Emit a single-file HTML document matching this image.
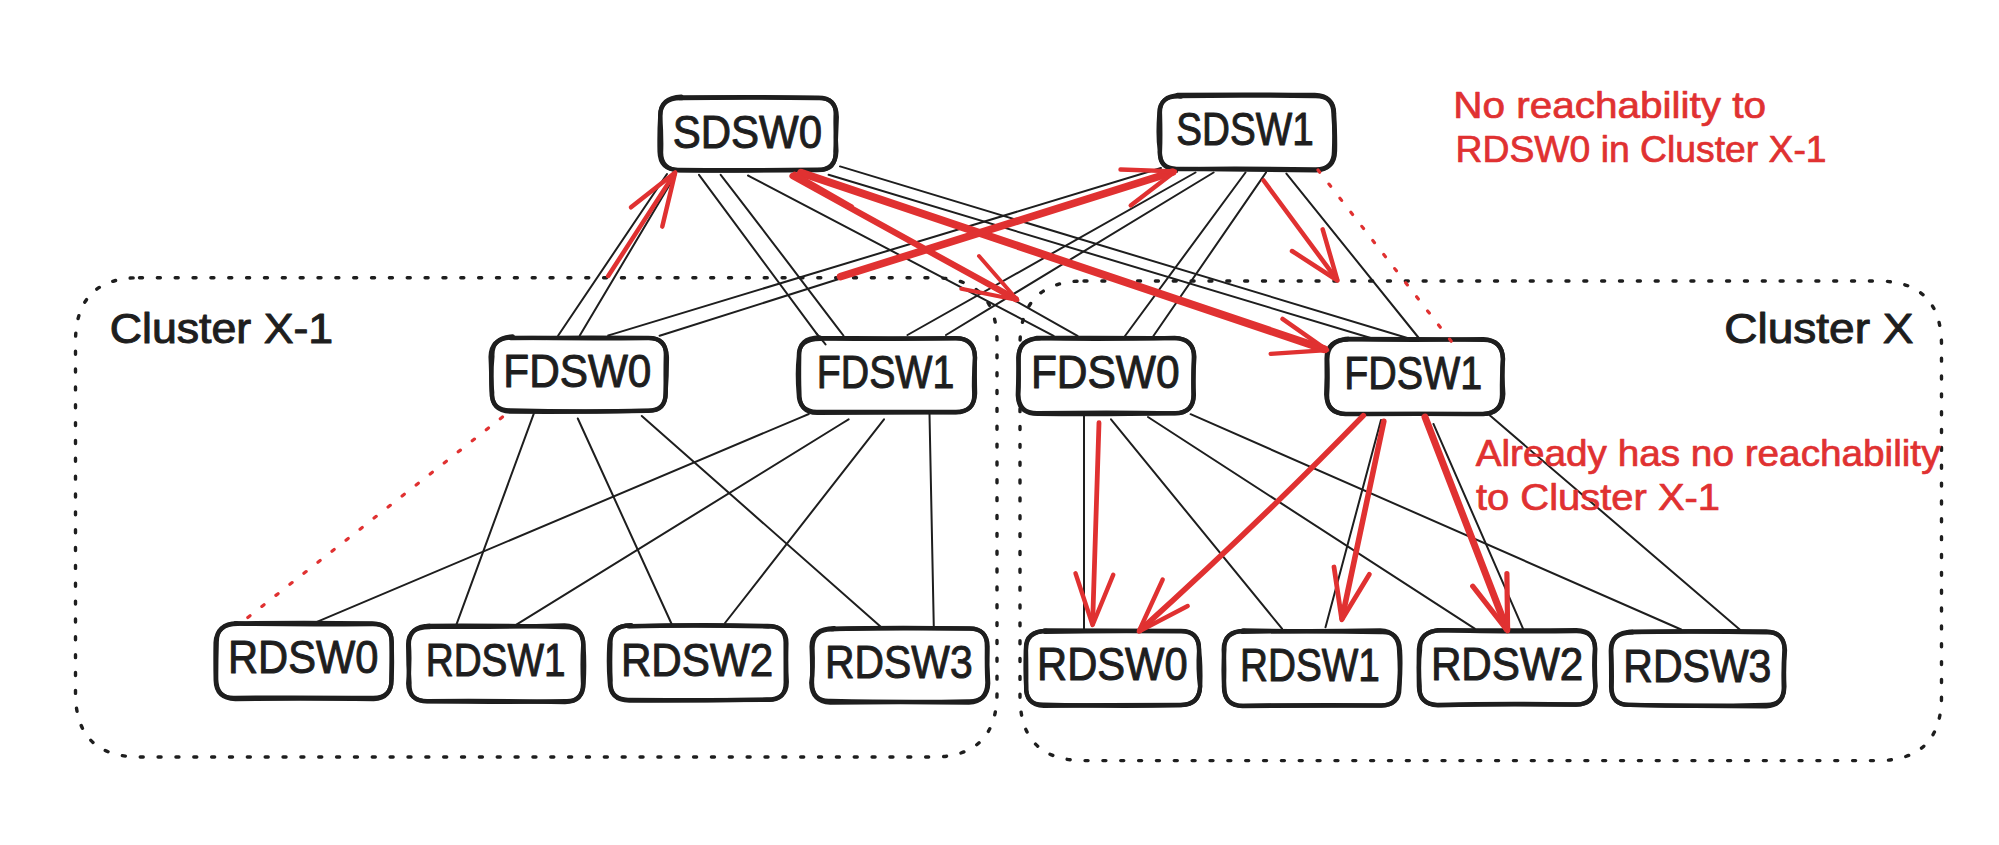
<!DOCTYPE html>
<html lang="en"><head><meta charset="utf-8"><title>Cluster reachability diagram</title>
<style>html,body{margin:0;padding:0;background:#fff}body{width:1999px;height:845px;overflow:hidden}svg{display:block}text{font-family:"Liberation Sans",sans-serif}</style></head><body>
<svg width="1999" height="845" viewBox="0 0 1999 845">
<rect width="1999" height="845" fill="#fff"/>
<g id="links">
<path d="M667 174C631.3 227.4 595.5 280.8 558.2 335.5" stroke="#1e1e1e" stroke-width="2.0" fill="none" stroke-linecap="round"/>
<path d="M676 174C644.1 227.2 612.9 280.9 579.8 335.5" stroke="#1e1e1e" stroke-width="2.0" fill="none" stroke-linecap="round"/>
<path d="M699 174.8C740.2 230.5 781.6 286.1 824 343.6" stroke="#1e1e1e" stroke-width="2.0" fill="none" stroke-linecap="round"/>
<path d="M720.7 174.8C761.6 227.5 801.7 280.9 843.4 335.5" stroke="#1e1e1e" stroke-width="2.0" fill="none" stroke-linecap="round"/>
<path d="M748 175.5C849.1 227.9 949.7 281.2 1053.6 335.8" stroke="#1e1e1e" stroke-width="2.0" fill="none" stroke-linecap="round"/>
<path d="M792 175C886.5 227.6 980.7 280.7 1077.5 335.8" stroke="#1e1e1e" stroke-width="2.0" fill="none" stroke-linecap="round"/>
<path d="M840 166.4C1027.8 223.1 1215.4 280.4 1409 338.5" stroke="#1e1e1e" stroke-width="2.0" fill="none" stroke-linecap="round"/>
<path d="M828.6 174.8C1007.6 228.2 1186.5 282.2 1370.7 338" stroke="#1e1e1e" stroke-width="2.0" fill="none" stroke-linecap="round"/>
<path d="M608.2 335.5C790.7 280.4 973.2 225.5 1161 168" stroke="#1e1e1e" stroke-width="2.0" fill="none" stroke-linecap="round"/>
<path d="M659.6 335.8C830.4 281.8 1001 227.4 1177 171.8" stroke="#1e1e1e" stroke-width="2.0" fill="none" stroke-linecap="round"/>
<path d="M907.5 335C1002.8 281.9 1097.3 227.3 1195.5 172.5" stroke="#1e1e1e" stroke-width="2.0" fill="none" stroke-linecap="round"/>
<path d="M946 335C1034.5 281.7 1122.5 227.5 1213.6 172.5" stroke="#1e1e1e" stroke-width="2.0" fill="none" stroke-linecap="round"/>
<path d="M1245.5 172.5C1206.1 226.7 1166.3 280.7 1125 336" stroke="#1e1e1e" stroke-width="2.0" fill="none" stroke-linecap="round"/>
<path d="M1266 172.5C1229 226.6 1191.4 280.2 1153.4 336" stroke="#1e1e1e" stroke-width="2.0" fill="none" stroke-linecap="round"/>
<path d="M1286.4 173.6C1330.5 227.8 1374 282.5 1419.2 338.5" stroke="#1e1e1e" stroke-width="2.0" fill="none" stroke-linecap="round"/>
<path d="M533.8 413.6C508.1 483.1 482.9 552.8 456.5 624.4" stroke="#1e1e1e" stroke-width="2.0" fill="none" stroke-linecap="round"/>
<path d="M577.8 418.5C609.2 487.3 641.1 555.9 673 627" stroke="#1e1e1e" stroke-width="2.0" fill="none" stroke-linecap="round"/>
<path d="M641.8 416C721.1 485.2 799.9 555 881 627" stroke="#1e1e1e" stroke-width="2.0" fill="none" stroke-linecap="round"/>
<path d="M808.8 414C644.4 483.2 480.3 552.9 311 624.4" stroke="#1e1e1e" stroke-width="2.0" fill="none" stroke-linecap="round"/>
<path d="M848.6 419.3C739.2 487.2 629.6 554.6 516.8 624.4" stroke="#1e1e1e" stroke-width="2.0" fill="none" stroke-linecap="round"/>
<path d="M884 419.3C831.6 486.6 779.2 553.9 725 623" stroke="#1e1e1e" stroke-width="2.0" fill="none" stroke-linecap="round"/>
<path d="M929.5 414C930.6 484.3 932.1 554.6 933.8 627" stroke="#1e1e1e" stroke-width="2.0" fill="none" stroke-linecap="round"/>
<path d="M1084 414C1084.3 485.6 1083.9 557.2 1084 631" stroke="#1e1e1e" stroke-width="2.0" fill="none" stroke-linecap="round"/>
<path d="M1111 419.3C1167.4 488.4 1223.5 557.8 1282 628.7" stroke="#1e1e1e" stroke-width="2.0" fill="none" stroke-linecap="round"/>
<path d="M1148 417C1255.7 487.1 1363.8 556.5 1474.7 628.7" stroke="#1e1e1e" stroke-width="2.0" fill="none" stroke-linecap="round"/>
<path d="M1190.6 414.2C1352.2 485.8 1514.5 555.9 1681.1 629.5" stroke="#1e1e1e" stroke-width="2.0" fill="none" stroke-linecap="round"/>
<path d="M1381 420C1362.8 488.4 1344.1 556.7 1325.5 627.3" stroke="#1e1e1e" stroke-width="2.0" fill="none" stroke-linecap="round"/>
<path d="M1433.5 424C1463.4 491.4 1492.6 559.1 1523 628.7" stroke="#1e1e1e" stroke-width="2.0" fill="none" stroke-linecap="round"/>
<path d="M1490 415.6C1573 485.9 1655.1 557.3 1740.3 630" stroke="#1e1e1e" stroke-width="2.0" fill="none" stroke-linecap="round"/>
</g>
<g id="clusters">
<path d="M139.5 277.7L933 277.7Q997 277.7 997 341.7L997 693Q997 757 933 757L139.5 757Q75.5 757 75.5 693L75.5 341.7Q75.5 277.7 139.5 277.7Z" fill="none" stroke="#1e1e1e" stroke-width="3.4" stroke-linecap="round" stroke-dasharray="3 14.85"/>
<path d="M1084 281L1877.5 281Q1941.5 281 1941.5 345L1941.5 696.6Q1941.5 760.6 1877.5 760.6L1084 760.6Q1020 760.6 1020 696.6L1020 345Q1020 281 1084 281Z" fill="none" stroke="#1e1e1e" stroke-width="3.4" stroke-linecap="round" stroke-dasharray="3 14.85"/>
</g>
<g id="nodes">
<g fill="none" stroke="#1e1e1e" stroke-width="4.3" stroke-linecap="round" stroke-linejoin="round">
<path d="M679.6 97.5Q753.7 96.8 817.8 97.6Q836.3 97.4 836.8 117Q836.1 135.2 835.4 151.7Q836.4 170.6 818 169.7Q746.7 170.6 678.3 170Q660 169.7 659.6 151.8Q659.2 131.5 660.2 116.8Q659.9 97.3 682.2 98.1" fill="#fff"/>
<path d="M679.7 98.1Q745.1 97.1 817.2 98.1Q836.7 97 835.6 115.7Q835.3 133.6 836.4 150.9Q835.7 170 817.2 170.2Q754.8 170.7 679.2 170.3Q660.6 169.6 661.1 151.9Q661.6 136.4 660.2 116Q660 97.5 681.4 96.6"/>
</g>
<text x="672.7" y="147.6" font-size="46" fill="#1e1e1e" stroke="#1e1e1e" stroke-width="1" stroke-linejoin="round" textLength="149.3" lengthAdjust="spacingAndGlyphs">SDSW0</text>
<g fill="none" stroke="#1e1e1e" stroke-width="4.3" stroke-linecap="round" stroke-linejoin="round">
<path d="M1177.4 95Q1244.5 94.2 1314.8 95Q1334 95.5 1333.5 115Q1334.8 129.4 1334 150.5Q1334.3 169.1 1316.3 170.4Q1246.3 169.4 1177.2 168.8Q1159 169.2 1159.8 150.1Q1157.7 136.6 1159.3 113.7Q1159.2 95.1 1181 96.5" fill="#fff"/>
<path d="M1178.6 96Q1243.4 95.2 1315.1 96.1Q1334.4 95.9 1334.1 113.9Q1335.4 136.9 1335 151.3Q1334.7 169.8 1315.2 169.5Q1244.7 168 1177.1 169.1Q1158.9 169.7 1160 150.7Q1160.6 136.9 1160 114.1Q1158.9 95.3 1180.4 95.1"/>
</g>
<text x="1176.3" y="145.2" font-size="46" fill="#1e1e1e" stroke="#1e1e1e" stroke-width="1" stroke-linejoin="round" textLength="137.4" lengthAdjust="spacingAndGlyphs">SDSW1</text>
<g fill="none" stroke="#1e1e1e" stroke-width="4.3" stroke-linecap="round" stroke-linejoin="round">
<path d="M510.5 338.1Q583.8 337.3 647.7 337.9Q665.8 337.6 666.9 356.7Q667 374 665.6 392.7Q666 411.2 648.3 410.7Q577.4 412.3 510.7 410.3Q491.1 410.5 492.2 392.7Q490.4 377.1 492.4 356.4Q491.3 337.5 512.6 336.5" fill="#fff"/>
<path d="M511.1 337.7Q579.2 338.8 647.3 338.1Q666.6 337.1 665.8 355.8Q665.4 374.9 665.8 392Q665.8 411.3 647.2 410.8Q580.1 412.2 510.1 411.7Q491.5 410.9 491.5 391.3Q491.3 371.3 490.6 356.7Q491.1 337.4 513.7 337.5"/>
</g>
<text x="503.3" y="386.7" font-size="46" fill="#1e1e1e" stroke="#1e1e1e" stroke-width="1" stroke-linejoin="round" textLength="148.1" lengthAdjust="spacingAndGlyphs">FDSW0</text>
<g fill="none" stroke="#1e1e1e" stroke-width="4.3" stroke-linecap="round" stroke-linejoin="round">
<path d="M817 338Q887.3 338.9 954.9 338.1Q974.1 337.8 974.9 356.8Q974.6 377.4 975.1 393.2Q974.5 412.1 955.7 412.4Q885.8 412.2 817.3 412.9Q798.8 412.5 799.4 392.9Q798.8 379 799.2 356.1Q798.2 337.9 819.6 337.5" fill="#fff"/>
<path d="M816.6 338.3Q890.6 339.3 955 338.4Q974.6 337.6 975.1 357.6Q973.5 379.1 974.2 393.3Q974.9 412.5 955 412Q886.7 411.6 816.8 411.8Q798.8 411.6 798.7 393.2Q797 373.5 798.8 356.8Q798.1 338.5 820.9 338.8"/>
</g>
<text x="816.8" y="387.6" font-size="46" fill="#1e1e1e" stroke="#1e1e1e" stroke-width="1" stroke-linejoin="round" textLength="137.5" lengthAdjust="spacingAndGlyphs">FDSW1</text>
<g fill="none" stroke="#1e1e1e" stroke-width="4.3" stroke-linecap="round" stroke-linejoin="round">
<path d="M1036.6 338.2Q1099.6 339.5 1174.6 337.9Q1193.7 339 1194.4 356.9Q1192.7 379.7 1193.9 394.9Q1193.4 412.8 1175.4 413.2Q1100 414.7 1037.6 413.8Q1018.2 413.7 1017.8 395.2Q1018.5 374.5 1018.7 358.1Q1018.3 338.2 1040.4 338.1" fill="#fff"/>
<path d="M1036.6 338Q1099.7 337.6 1174.7 338.2Q1194.1 338.4 1193.8 356.8Q1193.3 371.6 1193.4 393.7Q1194.1 413.4 1174.5 413.3Q1112.5 412 1037.9 413.2Q1018.6 413.7 1018.4 394.6Q1019.2 380.3 1018.3 357.9Q1018.8 338.7 1040.2 338.3"/>
</g>
<text x="1030.9" y="388.4" font-size="46" fill="#1e1e1e" stroke="#1e1e1e" stroke-width="1" stroke-linejoin="round" textLength="148.7" lengthAdjust="spacingAndGlyphs">FDSW0</text>
<g fill="none" stroke="#1e1e1e" stroke-width="4.3" stroke-linecap="round" stroke-linejoin="round">
<path d="M1345 339.1Q1408.6 340.6 1483.2 339.2Q1502 340.2 1503.1 358.9Q1501.7 374.2 1502 394.5Q1502 413.2 1483.2 414.1Q1421.6 413.5 1345.4 414.1Q1326.9 413.1 1326.2 394.3Q1327 376.6 1326.6 358.6Q1326.6 339.5 1348.1 339.6" fill="#fff"/>
<path d="M1345 338.9Q1411.9 338.9 1483.8 339.9Q1502.7 340 1502.8 359.2Q1502 375 1503.3 393.9Q1502.6 413.5 1482.8 413.9Q1420.4 413.7 1346.3 413.9Q1326.7 413.3 1327.1 395.2Q1328.1 379.5 1327.3 359.3Q1327.3 340 1348.4 339"/>
</g>
<text x="1344.2" y="389.4" font-size="46" fill="#1e1e1e" stroke="#1e1e1e" stroke-width="1" stroke-linejoin="round" textLength="138" lengthAdjust="spacingAndGlyphs">FDSW1</text>
<g fill="none" stroke="#1e1e1e" stroke-width="4.3" stroke-linecap="round" stroke-linejoin="round">
<path d="M234.3 623.5Q298.2 624.9 372.9 624Q391.6 624 391.5 641.7Q392.5 663.3 391.5 679.6Q391.7 697.8 373.2 697.9Q297.7 697.5 235.4 697.8Q216.5 698.8 216.2 679.3Q216.1 662.7 216.7 642.8Q216.4 623.3 237.3 623.4" fill="#fff"/>
<path d="M235.4 623.4Q304.8 622.2 372 623.4Q391.7 624 391.8 642.2Q391.6 660.7 391.4 678.9Q391.9 698 373.6 699.1Q296.9 698.2 235.5 699.1Q216.1 698.1 215.7 680.4Q215.3 661.8 215.6 642.6Q216.7 623.4 238.5 623.8"/>
</g>
<text x="228" y="673.4" font-size="46" fill="#1e1e1e" stroke="#1e1e1e" stroke-width="1" stroke-linejoin="round" textLength="150.4" lengthAdjust="spacingAndGlyphs">RDSW0</text>
<g fill="none" stroke="#1e1e1e" stroke-width="4.3" stroke-linecap="round" stroke-linejoin="round">
<path d="M428 626.6Q492.1 627.5 564.5 625.3Q582.8 626.2 583.2 644.6Q582.1 662.6 583 683.7Q582.8 702.1 565.2 701.1Q502.1 702.5 428.1 701.4Q408.5 701.7 409.5 683.2Q408.1 663.4 408.2 644.1Q408.2 626.6 430 627" fill="#fff"/>
<path d="M426.9 625.8Q496.1 625.2 564.3 627Q583.7 626.5 583.5 645.7Q584.7 664.4 583.7 682.2Q583.6 701.7 565 702.1Q492.9 700.3 428.1 701.1Q408.6 701.6 408.2 683.5Q410.1 661.8 408.9 644.6Q408.7 626.1 429.8 625.6"/>
</g>
<text x="425.7" y="676.4" font-size="46" fill="#1e1e1e" stroke="#1e1e1e" stroke-width="1" stroke-linejoin="round" textLength="139.8" lengthAdjust="spacingAndGlyphs">RDSW1</text>
<g fill="none" stroke="#1e1e1e" stroke-width="4.3" stroke-linecap="round" stroke-linejoin="round">
<path d="M628 626.3Q698 624.7 768.2 626.5Q786.1 625.2 785.6 643.6Q785.7 659.2 785.7 680.9Q786.3 700.5 767.9 699.9Q696.8 700.2 628.3 699.8Q609.3 699.9 610.6 680.7Q609.8 664 610.5 643.8Q609.6 625.3 631.4 625.5" fill="#fff"/>
<path d="M629.4 626.2Q703.4 624.1 766.6 626Q786.6 625.6 786.4 643.5Q785.8 666.7 786.8 682Q786.7 699.8 766.7 699.5Q698.3 700.7 629.3 700.5Q610 700.4 609.7 681.4Q608.3 665.4 609.3 645.1Q610 625.4 630.9 625.2"/>
</g>
<text x="620.9" y="676.1" font-size="46" fill="#1e1e1e" stroke="#1e1e1e" stroke-width="1" stroke-linejoin="round" textLength="152.3" lengthAdjust="spacingAndGlyphs">RDSW2</text>
<g fill="none" stroke="#1e1e1e" stroke-width="4.3" stroke-linecap="round" stroke-linejoin="round">
<path d="M831.1 629Q894.2 627.2 968.7 628.7Q987.3 628.3 987.6 646.5Q986.8 664.8 988.2 683.3Q987.8 701.8 968.2 701.3Q906.4 702.5 830.5 700.9Q812.1 702 812 682.6Q812.6 669 811.6 646.5Q811.9 628.5 834.2 628.1" fill="#fff"/>
<path d="M831.4 629Q899.8 627.6 969.5 628.3Q987.7 628.3 986.9 647.8Q986.7 669.3 987.4 682.5Q987.1 701.7 968.9 702.6Q894.7 701.5 830.3 702.7Q811.7 701.3 811.3 682.9Q813.4 668.7 812.5 648.2Q812.6 628.4 833.3 629.4"/>
</g>
<text x="825.1" y="678.1" font-size="46" fill="#1e1e1e" stroke="#1e1e1e" stroke-width="1" stroke-linejoin="round" textLength="147.5" lengthAdjust="spacingAndGlyphs">RDSW3</text>
<g fill="none" stroke="#1e1e1e" stroke-width="4.3" stroke-linecap="round" stroke-linejoin="round">
<path d="M1044.6 630.4Q1114.8 630.8 1180.4 630.9Q1199 630.7 1199 649.7Q1200.9 664.8 1200.2 685.8Q1199.2 705.4 1181.2 705Q1105.9 705 1043.9 705.9Q1025.1 705 1026.1 685.5Q1025.1 671 1025.9 649.1Q1024.9 630.7 1047.9 630.8" fill="#fff"/>
<path d="M1044.6 631.9Q1110.1 630.5 1181.5 631.4Q1199.1 631.4 1199.1 649.5Q1197.8 670.5 1200.1 686.6Q1199.9 704.6 1180.2 705.1Q1119 706.6 1043.9 704.7Q1025.3 705.1 1026.2 685.8Q1026.4 670.3 1026 650.4Q1025.5 631 1046.8 631"/>
</g>
<text x="1037.1" y="679.9" font-size="46" fill="#1e1e1e" stroke="#1e1e1e" stroke-width="1" stroke-linejoin="round" textLength="150.5" lengthAdjust="spacingAndGlyphs">RDSW0</text>
<g fill="none" stroke="#1e1e1e" stroke-width="4.3" stroke-linecap="round" stroke-linejoin="round">
<path d="M1242.9 630.4Q1307.1 632 1380.2 630.4Q1398.9 631.3 1399.1 650.8Q1400.6 672.8 1399 686.2Q1399 705.7 1381 705.6Q1307.7 705.4 1242.6 706Q1223.9 706.1 1223.9 686.3Q1224.7 666.6 1223.7 649.7Q1223.9 630.9 1244.9 630.7" fill="#fff"/>
<path d="M1241.7 631.9Q1312.6 630.6 1380.5 632.1Q1399.4 630.9 1400 650.2Q1401 664.9 1399.4 687.5Q1399.8 706.1 1379.8 705.3Q1306 704.7 1243.2 705.8Q1224.1 705.6 1224.3 686.9Q1222.8 670.9 1224.4 649.2Q1223.7 631.3 1244.8 631"/>
</g>
<text x="1240.1" y="680.8" font-size="46" fill="#1e1e1e" stroke="#1e1e1e" stroke-width="1" stroke-linejoin="round" textLength="139.8" lengthAdjust="spacingAndGlyphs">RDSW1</text>
<g fill="none" stroke="#1e1e1e" stroke-width="4.3" stroke-linecap="round" stroke-linejoin="round">
<path d="M1437.3 630.1Q1503.6 630.9 1576.5 630.1Q1594.5 630.4 1595.3 648.8Q1594.4 664.9 1595.5 685.8Q1594.5 704.1 1576.1 704.6Q1509.1 703.2 1437.3 704.9Q1419.1 704.3 1418.9 686.6Q1418.6 668.1 1418.9 649.2Q1419.6 631.1 1440.7 630.1" fill="#fff"/>
<path d="M1438.4 630.1Q1500 631.9 1576.1 631.2Q1594.9 631 1594.9 648.7Q1593.4 668 1595.3 686.5Q1594.6 704.6 1576 704.5Q1502 703.8 1438 705.3Q1418.8 704.5 1419.7 686.6Q1418.2 664.2 1420 650.2Q1419.2 630.1 1441.7 630.4"/>
</g>
<text x="1430.9" y="680.2" font-size="46" fill="#1e1e1e" stroke="#1e1e1e" stroke-width="1" stroke-linejoin="round" textLength="152.3" lengthAdjust="spacingAndGlyphs">RDSW2</text>
<g fill="none" stroke="#1e1e1e" stroke-width="4.3" stroke-linecap="round" stroke-linejoin="round">
<path d="M1630.4 632Q1702.3 630.7 1766.2 631.3Q1784.3 632.2 1785 650Q1783.5 667.8 1784.4 686.7Q1784 705.4 1766.1 706.4Q1691 705.9 1630.1 704.9Q1611.3 705.3 1611.1 687Q1611.3 667 1610.8 650.7Q1610.8 632 1632.6 631.7" fill="#fff"/>
<path d="M1628.8 632Q1697.5 630.9 1766.1 632.3Q1784.4 631.5 1784.4 649.8Q1783.2 668.1 1783.7 686.8Q1784.4 705.2 1765.9 704.9Q1701 706.6 1629.7 704.9Q1610.9 705.6 1611.7 686.3Q1612.1 673.2 1611.3 651.1Q1610.6 632.3 1632.6 632.6"/>
</g>
<text x="1623.3" y="681.7" font-size="46" fill="#1e1e1e" stroke="#1e1e1e" stroke-width="1" stroke-linejoin="round" textLength="148.1" lengthAdjust="spacingAndGlyphs">RDSW3</text>
</g>
<g id="red-arrows">
<path d="M801 172.8L1324.4 349.2" stroke="#e03131" stroke-width="7.9" fill="none" stroke-linecap="round"/>
<path d="M1282.5 318.9L1327 350.1L1270.7 353.9" stroke="#e03131" stroke-width="4.4" fill="none" stroke-linecap="round" stroke-linejoin="round"/>
<path d="M792.5 176L1015.7 299.1" stroke="#e03131" stroke-width="6.3" fill="none" stroke-linecap="round"/>
<path d="M979 256L1017.4 300L961.3 288.7" stroke="#e03131" stroke-width="4.0" fill="none" stroke-linecap="round" stroke-linejoin="round"/>
<path d="M840.5 276.6L1172.5 172.2" stroke="#e03131" stroke-width="7.6" fill="none" stroke-linecap="round"/>
<path d="M1120.5 169.5L1175 171.4L1130.7 205.5" stroke="#e03131" stroke-width="4.4" fill="none" stroke-linecap="round" stroke-linejoin="round"/>
<path d="M794.5 173.6L852 206.5" stroke="#e03131" stroke-width="4.2" fill="none" stroke-linecap="round"/>
<path d="M608.2 276L674.6 173.4" stroke="#e03131" stroke-width="4.5" fill="none" stroke-linecap="round"/>
<path d="M631 207.3L675.2 172.5L662.3 226.6" stroke="#e03131" stroke-width="4.5" fill="none" stroke-linecap="round" stroke-linejoin="round"/>
<path d="M1263.6 180.5L1336.9 279.7" stroke="#e03131" stroke-width="4.5" fill="none" stroke-linecap="round"/>
<path d="M1292 251L1337.5 280.5L1322.7 229.3" stroke="#e03131" stroke-width="4.5" fill="none" stroke-linecap="round" stroke-linejoin="round"/>
<path d="M1099 422.7L1092.6 623.8" stroke="#e03131" stroke-width="4.8" fill="none" stroke-linecap="round"/>
<path d="M1075.5 573.3L1092.6 625L1113.3 574.7" stroke="#e03131" stroke-width="4.4" fill="none" stroke-linecap="round" stroke-linejoin="round"/>
<path d="M1363.3 415.6Q1262 520 1140 630.4" stroke="#e03131" stroke-width="5.6" fill="none" stroke-linecap="round"/>
<path d="M1162.7 579.5L1138.8 631.5L1187.7 606" stroke="#e03131" stroke-width="4.4" fill="none" stroke-linecap="round" stroke-linejoin="round"/>
<path d="M1383.8 421.3L1342.1 618.2" stroke="#e03131" stroke-width="5.6" fill="none" stroke-linecap="round"/>
<path d="M1334 567L1341.8 619.8L1369.4 574.2" stroke="#e03131" stroke-width="4.8" fill="none" stroke-linecap="round" stroke-linejoin="round"/>
<path d="M1425 417L1506.8 628.7" stroke="#e03131" stroke-width="7.0" fill="none" stroke-linecap="round"/>
<path d="M1472.7 586.2L1507.6 630.8L1506.9 573.6" stroke="#e03131" stroke-width="5.2" fill="none" stroke-linecap="round" stroke-linejoin="round"/>
</g>
<path d="M816.5 333.5C819.1 337.4 822.8 340.5 825.6 344.5" stroke="#1e1e1e" stroke-width="2.0" fill="none" stroke-linecap="round"/>
<g id="red-dotted">
<path d="M502.5 417L245.5 619.3" stroke="#e03131" stroke-width="3.2" fill="none" stroke-linecap="round" stroke-dasharray="2.8 15.05"/>
<path d="M1318 170L1451.4 341.5" stroke="#e03131" stroke-width="3.2" fill="none" stroke-linecap="round" stroke-dasharray="2.8 15.05"/>
</g>
<g id="labels">
<text x="109.7" y="343.3" font-size="42" fill="#1e1e1e" stroke="#1e1e1e" stroke-width="1.0" stroke-linejoin="round" textLength="223.5" lengthAdjust="spacingAndGlyphs">Cluster X-1</text>
<text x="1724.2" y="343.2" font-size="42" fill="#1e1e1e" stroke="#1e1e1e" stroke-width="1.0" stroke-linejoin="round" textLength="189.3" lengthAdjust="spacingAndGlyphs">Cluster X</text>
<text x="1453.2" y="118" font-size="36" fill="#e03131" stroke="#e03131" stroke-width="0.7" stroke-linejoin="round" textLength="312.9" lengthAdjust="spacingAndGlyphs">No reachability to</text>
<text x="1455.6" y="162" font-size="36" fill="#e03131" stroke="#e03131" stroke-width="0.7" stroke-linejoin="round" textLength="371" lengthAdjust="spacingAndGlyphs">RDSW0 in Cluster X-1</text>
<text x="1475.7" y="466.3" font-size="36" fill="#e03131" stroke="#e03131" stroke-width="0.7" stroke-linejoin="round" textLength="464.8" lengthAdjust="spacingAndGlyphs">Already has no reachability</text>
<text x="1475.9" y="509.7" font-size="36" fill="#e03131" stroke="#e03131" stroke-width="0.7" stroke-linejoin="round" textLength="244.2" lengthAdjust="spacingAndGlyphs">to Cluster X-1</text>
</g>
</svg></body></html>
